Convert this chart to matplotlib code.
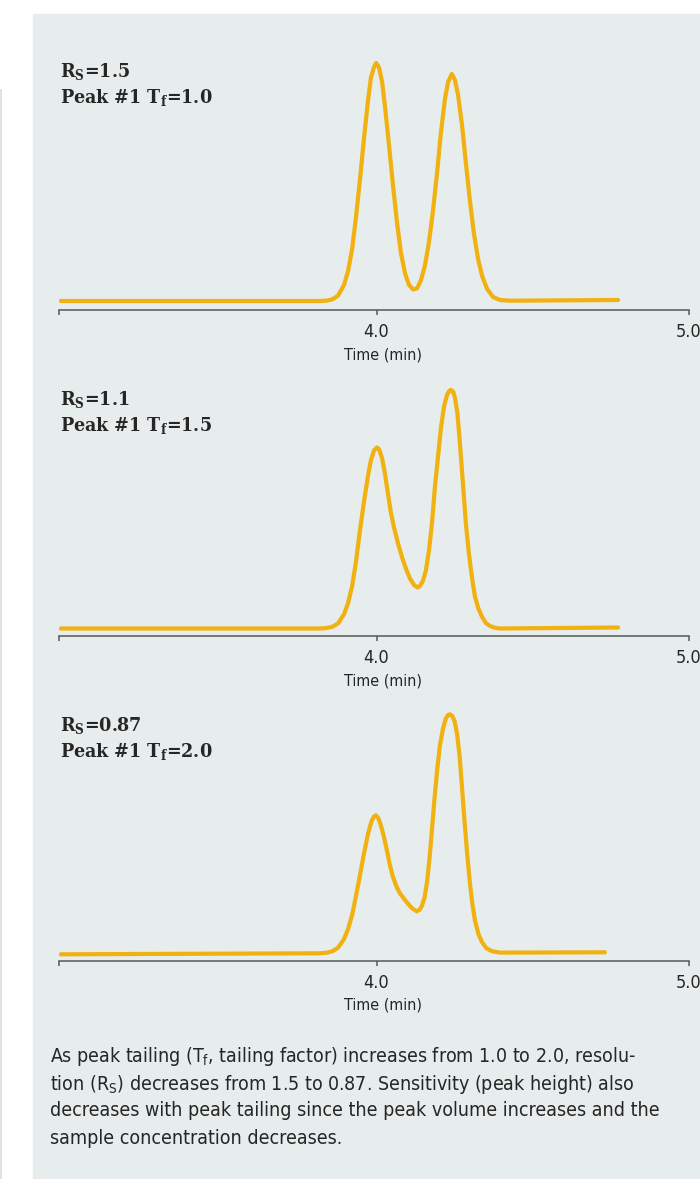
import matplotlib
matplotlib.use("Agg")
import matplotlib.pyplot as plt
from matplotlib.patches import Rectangle
from matplotlib.lines import Line2D

# chromatogram traces: retention time (min) and detector response (arb. units)
time_a = [2.99, 3.819, 3.838, 3.858, 3.877, 3.896, 3.909, 3.922, 3.934, 3.947, 3.960,
          3.973, 3.982, 3.992, 3.999, 4.008, 4.018, 4.027, 4.040, 4.053, 4.066, 4.078,
          4.091, 4.104, 4.117, 4.130, 4.142, 4.155, 4.168, 4.181, 4.194, 4.206, 4.219,
          4.229, 4.241, 4.251, 4.261, 4.274, 4.286, 4.299, 4.312, 4.325, 4.338, 4.354,
          4.373, 4.395, 4.427, 4.773]
resp_a = [0, 0, 0.3, 1.5, 5.4, 16, 30, 52, 83, 121, 163,
          201, 223, 234, 238, 233.5, 219, 195, 156, 115, 77.5, 48.5,
          28, 16, 11.5, 12.7, 20.5, 35.5, 59, 91, 129, 168, 202,
          219, 227, 221, 206, 175, 138, 100, 67, 42, 25, 12,
          4, 1, 0.3, 1]

time_b = [2.99, 3.819, 3.838, 3.858, 3.877, 3.896, 3.909, 3.922, 3.934, 3.947, 3.960,
          3.973, 3.982, 3.992, 4.001, 4.008, 4.018, 4.027, 4.037, 4.046, 4.056, 4.069,
          4.082, 4.094, 4.107, 4.120, 4.131, 4.139, 4.149, 4.158, 4.168, 4.178, 4.187,
          4.197, 4.206, 4.216, 4.226, 4.234, 4.238, 4.245, 4.251, 4.259, 4.267, 4.277,
          4.286, 4.296, 4.306, 4.315, 4.326, 4.338, 4.350, 4.363, 4.379, 4.395, 4.773]
resp_b = [0, 0, 0.4, 1.6, 5.1, 14.3, 25.5, 42.4, 66, 98, 127,
          153, 168, 178, 181, 179.5, 170, 155, 134, 116, 101, 85,
          71, 60, 50, 43.5, 41, 42.5, 48, 58, 78, 107, 142,
          172, 200, 222, 234, 238, 238.5, 237, 231, 215, 185, 143,
          105, 74, 50, 32, 20, 11.5, 5.5, 2.5, 0.8, 0, 1]

time_c = [2.99, 3.819, 3.838, 3.858, 3.877, 3.896, 3.909, 3.922, 3.934, 3.947, 3.960,
          3.973, 3.984, 3.992, 3.998, 4.006, 4.014, 4.024, 4.034, 4.043, 4.053, 4.065,
          4.075, 4.088, 4.101, 4.114, 4.129, 4.138, 4.146, 4.154, 4.162, 4.170, 4.178,
          4.186, 4.194, 4.203, 4.213, 4.222, 4.230, 4.235, 4.242, 4.250, 4.258, 4.266,
          4.274, 4.282, 4.290, 4.298, 4.306, 4.315, 4.326, 4.338, 4.352, 4.370, 4.395,
          4.731]
resp_c = [-1, 0, 0.5, 1.9, 5.6, 14.2, 24.2, 38.4, 56.7, 78, 100,
          119.7, 132, 136.8, 138, 135, 128, 116, 102, 88, 76, 66,
          60, 54.5, 49.5, 45, 42, 43.5, 48, 56, 72, 96, 126,
          156, 183, 208, 225, 235, 238.5, 239, 237.5, 232, 219, 197,
          164, 131, 100, 73, 51, 33, 19.5, 11, 5, 2, 0.7,
          1]

traces = [(time_a, resp_a), (time_b, resp_b), (time_c, resp_c)]
rs_values = ["1.5", "1.1", "0.87"]
tf_values = ["1.0", "1.5", "2.0"]
tick_pos = [2.984, 4.0, 5.0]
tick_labels = ["", "4.0", "5.0"]

caption_lines = [
    r"As peak tailing (T$_\mathrm{f}$, tailing factor) increases from 1.0 to 2.0, resolu-",
    r"tion (R$_\mathrm{S}$) decreases from 1.5 to 0.87. Sensitivity (peak height) also",
    "decreases with peak tailing since the peak volume increases and the",
    "sample concentration decreases.",
]

plt.rcParams["font.family"] = ["DejaVu Sans"]
plt.rcParams["font.stretch"] = "condensed"
plt.rcParams["mathtext.fontset"] = "custom"
plt.rcParams["mathtext.rm"] = "DejaVu Sans:stretch=condensed"
plt.rcParams["mathtext.bf"] = "DejaVu Serif:bold"

W, H = 700, 1179
bg = "#e7ecec"
gold = "#f0b111"
axis_col = "#585858"
text_col = "#262626"

fig = plt.figure(figsize=(W / 100, H / 100), dpi=100)
fig.patches.append(Rectangle((33 / W, 0), 1 - 33 / W, 1 - 14 / H,
                             transform=fig.transFigure, color=bg, zorder=-5))
fig.lines.append(Line2D([0.6 / W, 0.6 / W], [0, 1 - 90 / H], transform=fig.transFigure,
                        color="#d9dddd", lw=1.2, zorder=-5))

spine_px = [310, 636, 961]
base_px = [9, 7.5, 7.7]
label_px = [72, 400, 726]
ax_h = 270

for i, (t, r) in enumerate(traces):
    ax = fig.add_axes([59 / W, 1 - spine_px[i] / H, 630 / W, ax_h / H])
    ax.patch.set_visible(False)
    ax.plot(t, r, color=gold, lw=3.0, solid_joinstyle="round", solid_capstyle="round")
    ax.set_xlim(2.984, 5.0)
    ax.set_ylim(-base_px[i], ax_h - base_px[i])
    for s in ["left", "top", "right"]:
        ax.spines[s].set_visible(False)
    ax.spines["bottom"].set_color(axis_col)
    ax.spines["bottom"].set_linewidth(1.1)
    ax.set_yticks([])
    ax.set_xticks(tick_pos)
    ax.set_xticklabels(tick_labels)
    ax.tick_params(axis="x", direction="out", length=3.8, width=1.1, color=axis_col,
                   labelsize=13, labelcolor=text_col, pad=5.5)
    ax.set_xlabel("Time (min)", fontsize=11.5, color=text_col)
    ax.xaxis.set_label_coords((383 - 59) / 630, -37 / ax_h)

    fig.text(60 / W, 1 - label_px[i] / H, r"R$_\mathbf{S}$=%s" % rs_values[i],
             family="DejaVu Serif", weight="bold", fontsize=14, color=text_col,
             va="center")
    fig.text(60 / W, 1 - (label_px[i] + 26) / H, r"Peak #1 T$_\mathbf{f}$=%s" % tf_values[i],
             family="DejaVu Serif", weight="bold", fontsize=14, color=text_col,
             va="center")

for j, line in enumerate(caption_lines):
    fig.text(50 / W, 1 - (1057 + 27 * j) / H, line, fontsize=14, color=text_col,
             va="center")

fig.savefig("out.png", dpi=100)
